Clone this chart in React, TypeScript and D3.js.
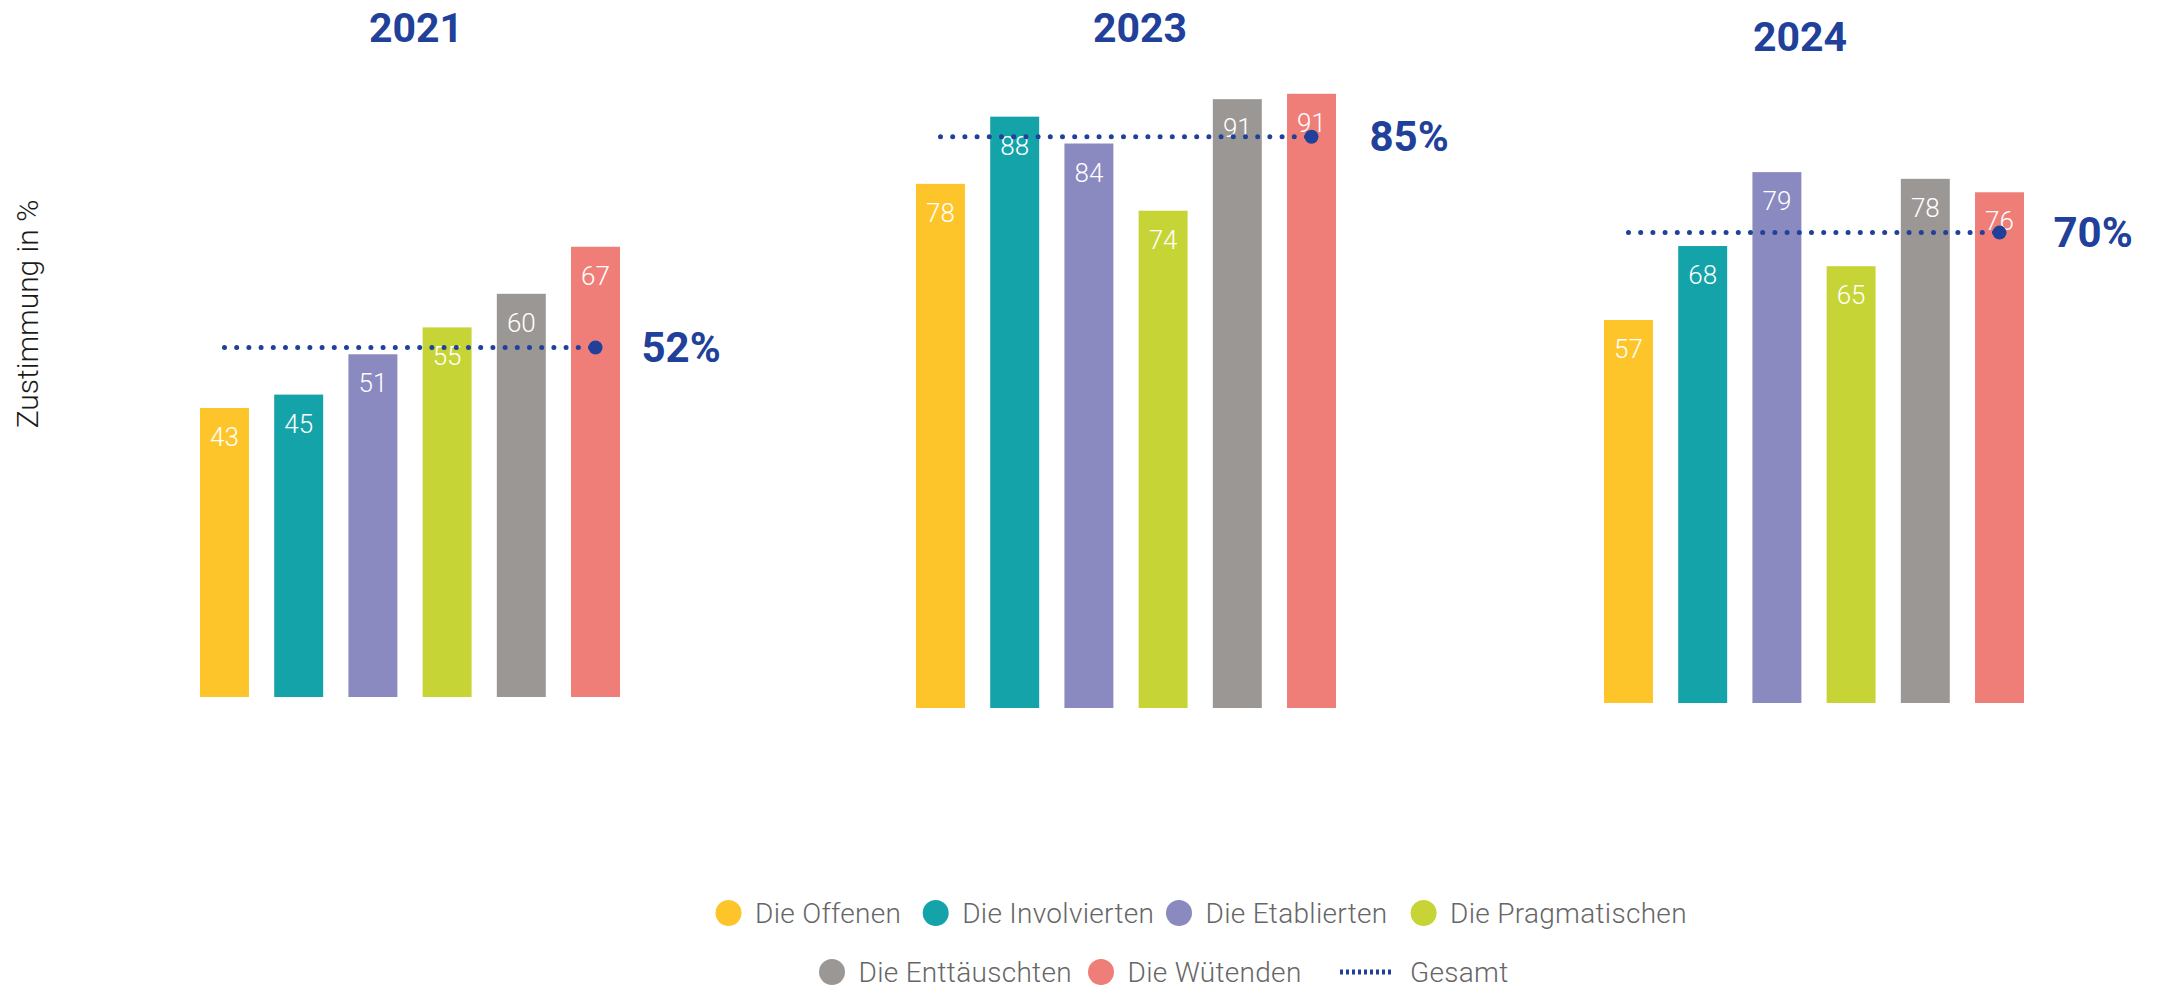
import React from "react";
import * as d3 from "d3";

// segment names and colours
const categories = [
  "Die Offenen",
  "Die Involvierten",
  "Die Etablierten",
  "Die Pragmatischen",
  "Die Enttäuschten",
  "Die Wütenden",
];
const colors = ["#fdc52a", "#14a3a8", "#8a89c0", "#c6d535", "#9b9795", "#ef7e78"];

const years = ["2021", "2023", "2024"];
const values2021 = [43, 45, 51, 55, 60, 67];
const values2023 = [78, 88, 84, 74, 90.6, 91.4];
const values2024 = [57, 68, 79, 65, 78, 76];
const totals = [52, 85, 70];

const BLUE = "#21409a";

// each year is its own little chart, slightly shifted
const groupLayout = [
  { left: 200, baseline: 697, titleX: 416, titleY: 28, pctDx: 46 },
  { left: 916, baseline: 708, titleX: 1140, titleY: 28, pctDx: 58 },
  { left: 1604, baseline: 703, titleX: 1800, titleY: 37, pctDx: 54 },
];

const legendRows = [
  { y: 913, items: [0, 1, 2, 3], xs: [728.5, 935.7, 1179, 1423.6] },
  { y: 972, items: [4, 5], xs: [832, 1101] },
];

const x = d3
  .scaleBand<string>()
  .domain(categories)
  .range([0, 420])
  .paddingInner(0.34)
  .paddingOuter(0);

const h = d3.scaleLinear().domain([0, 100]).range([0, 672]);

const fmt = (v: number) => String(Math.round(v));

const legendText = {
  fill: "#666",
  fontFamily: "Roboto, sans-serif",
  fontWeight: 300,
  fontSize: 28,
  letterSpacing: 0.3,
};

const Group: React.FC<{ idx: number; values: number[] }> = ({ idx, values }) => {
  const g = groupLayout[idx];
  const bw = x.bandwidth();
  const x0 = (x(categories[0]) ?? 0) + bw / 2;
  const x1 = (x(categories[categories.length - 1]) ?? 0) + bw / 2;
  const ty = -h(totals[idx]);
  return (
    <g>
      <text
        x={g.titleX}
        y={g.titleY}
        textAnchor="middle"
        dominantBaseline="central"
        fill={BLUE}
        fontFamily="Roboto, sans-serif"
        fontWeight={700}
        fontSize={41}
      >
        {years[idx]}
      </text>
      <g transform={`translate(${g.left},${g.baseline})`}>
        {values.map((v, i) => (
          <g key={i}>
            <rect
              x={x(categories[i])}
              y={-h(v)}
              width={bw}
              height={h(v)}
              fill={colors[i]}
            />
            <text
              x={(x(categories[i]) ?? 0) + bw / 2}
              y={-h(v) + 38}
              textAnchor="middle"
              fill="#fff"
              fontFamily="Roboto, sans-serif"
              fontWeight={300}
              fontSize={26}
            >
              {fmt(v)}
            </text>
          </g>
        ))}
        <line
          x1={x0}
          x2={x1}
          y1={ty}
          y2={ty}
          stroke={BLUE}
          strokeWidth={5}
          strokeLinecap="round"
          strokeDasharray="0 12.2"
        />
        <circle cx={x1} cy={ty} r={7} fill={BLUE} />
        <text
          x={x1 + g.pctDx}
          y={ty}
          dominantBaseline="central"
          fill={BLUE}
          fontFamily="Roboto, sans-serif"
          fontWeight={700}
          fontSize={42}
        >
          {totals[idx]}%
        </text>
      </g>
    </g>
  );
};

export default function App() {
  const allValues = [values2021, values2023, values2024];
  return (
    <svg
      width={2157}
      height={989}
      style={{ position: "absolute", left: 0, top: 0, background: "#fff" }}
    >
      <text
        transform="translate(27,314) rotate(-90)"
        textAnchor="middle"
        dominantBaseline="central"
        fill="#1a1a1a"
        fontFamily="Roboto, sans-serif"
        fontWeight={300}
        fontSize={30}
      >
        Zustimmung in %
      </text>

      {allValues.map((vals, i) => (
        <Group key={years[i]} idx={i} values={vals} />
      ))}

      {/* legend */}
      {legendRows.map((row, r) => (
        <g key={r}>
          {row.items.map((ci, k) => (
            <g key={ci}>
              <circle cx={row.xs[k]} cy={row.y} r={13} fill={colors[ci]} />
              <text x={row.xs[k] + 26.5} y={row.y} dominantBaseline="central" {...legendText}>
                {categories[ci]}
              </text>
            </g>
          ))}
        </g>
      ))}
      <line
        x1={1340}
        x2={1391}
        y1={972}
        y2={972}
        stroke={BLUE}
        strokeWidth={5}
        strokeDasharray="3 3"
      />
      <text x={1410} y={972} dominantBaseline="central" {...legendText}>
        Gesamt
      </text>
    </svg>
  );
}
